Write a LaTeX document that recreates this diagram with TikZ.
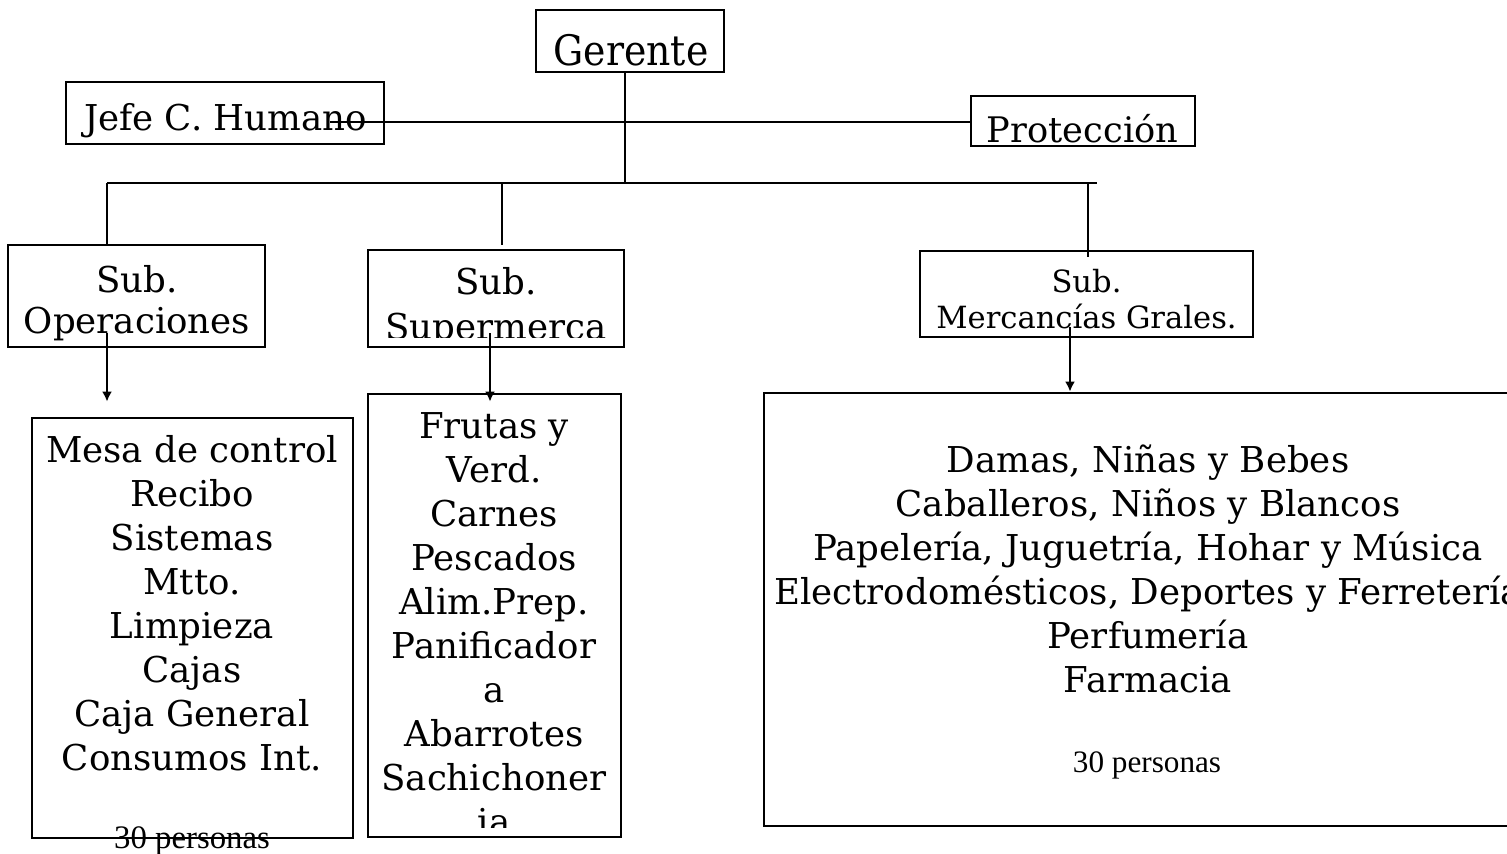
\documentclass[tikz,border=0pt]{standalone}
\usepackage{fontspec}
\setmainfont{DejaVu Serif}
\newfontfamily\narrowf[FakeStretch=0.9]{DejaVu Serif}
\newfontfamily\tmsf{Liberation Serif}
\usetikzlibrary{arrows.meta}
\newcommand\bodyf{\fontsize{17.8pt}{22pt}\selectfont}
\newcommand\subf{\fontsize{17.8pt}{20.5pt}\selectfont}
\newcommand\mgf{\fontsize{15.3pt}{18pt}\selectfont}
\newcommand\gerf{\narrowf\fontsize{21pt}{26pt}\selectfont}
\newcommand\perf{\tmsf\fontsize{15.6pt}{18pt}\selectfont}
\tikzset{
  box/.style={draw, line width=1.4pt, inner sep=0pt},
  lbl/.style={inner sep=0pt, align=center, anchor=base},
  con/.style={line width=1.4pt},
  arr/.style={line width=1.4pt, -{Latex[length=5pt,width=5pt]}}
}
\begin{document}
\begin{tikzpicture}[x=0.5pt,y=-0.5pt]
\useasboundingbox (0,0) rectangle (1507,853);
% boxes
\node[box, minimum width=94pt, minimum height=31pt] (ger) at (630,41) {};
\node[box, minimum width=159pt, minimum height=31pt] (jefe) at (225,113) {};
\node[box, minimum width=112pt, minimum height=25pt] (prot) at (1083,121) {};
\node[box, minimum width=128.5pt, minimum height=51pt] (subop) at (136.5,296) {};
\node[box, minimum width=128pt, minimum height=48.5pt] (subsu) at (496,298.5) {};
\node[box, minimum width=166.5pt, minimum height=43pt] (submg) at (1086.5,294) {};
\node[box, minimum width=160.5pt, minimum height=210pt] (mesa) at (192.5,628) {};
\node[box, minimum width=126.5pt, minimum height=221.5pt] (frut) at (494.5,615.5) {};
\node[box, minimum width=374pt, minimum height=216.5pt] (merc) at (1138,609.5) {};
% texts (anchor = baseline of the last line)
\node[lbl, font=\gerf] (tger) at (631,65) {Gerente};
\node[lbl, font=\bodyf] (tjefe) at (225.5,130) {Jefe C. Humano};
\node[lbl, font=\fontsize{17.6pt}{22pt}\selectfont] (tprot) at (1082.5,142) {Protección};
\node[lbl, font=\subf] (tsubop) at (137,333) {Sub.\\Operaciones};
\begin{scope}
  \clip (369,251) rectangle (623,337);
  \node[lbl, font=\fontsize{17.8pt}{22.5pt}\selectfont] (tsubsu) at (496,339) {Sub.\\Supermerca};
\end{scope}
\node[lbl, font=\mgf] (tsubmg) at (1086.5,328) {Sub.\\Mercancías Grales.};
\node[lbl, font=\bodyf] (tmesa) at (192,770) {Mesa de control\\Recibo\\Sistemas\\Mtto.\\Limpieza\\Cajas\\Caja General\\Consumos Int.};
\begin{scope}
  \clip (369,395) rectangle (620,827);
  \node[lbl, font=\bodyf] (tfrut) at (494,834) {Frutas y\\Verd.\\Carnes\\Pescados\\Alim.Prep.\\Panificador\\a\\Abarrotes\\Sachichoner\\ia};
\end{scope}
\node[lbl, font=\bodyf] (tmerc) at (1148,692) {Damas, Niñas y Bebes\\Caballeros, Niños y Blancos\\Papelería, Juguetría, Hohar y Música\\Electrodomésticos, Deportes y Ferretería\\Perfumería\\Farmacia};
\node[lbl, font=\tmsf\fontsize{16.4pt}{18pt}\selectfont] (pmesa) at (192,848) {30 personas};
\node[lbl, font=\perf] (pmerc) at (1147,772) {30 personas};
% connectors
\coordinate (busL) at (107,183);
\coordinate (busR) at (1097,183);
\coordinate (jl) at (330,122);
\coordinate (d2) at (502,183);
\coordinate (d3) at (1088,183);
\coordinate (a1) at (107,333);
\coordinate (a2) at (490,333);
\coordinate (a3) at (1070,327);
\draw[con] ([xshift=-2.5pt]ger.south) -- ([xshift=-2.5pt]ger.south |- busL);
\draw[con] (jl) -- (jl -| prot.west);
\draw[con] (busL) -- (busR);
\draw[con] (busL) -- (busL |- subop.north);
\draw[con] (d2) -- ([yshift=2pt]d2 |- subsu.north);
\draw[con] (d3) -- ([yshift=-3.5pt]d3 |- submg.north);
\draw[arr] (a1) -- ([yshift=7.5pt]a1 |- mesa.north);
\draw[arr] (a2) -- ([yshift=-4.5pt]a2 |- frut.north);
\draw[arr] (a3) -- (a3 |- merc.north);
\end{tikzpicture}
\end{document}
